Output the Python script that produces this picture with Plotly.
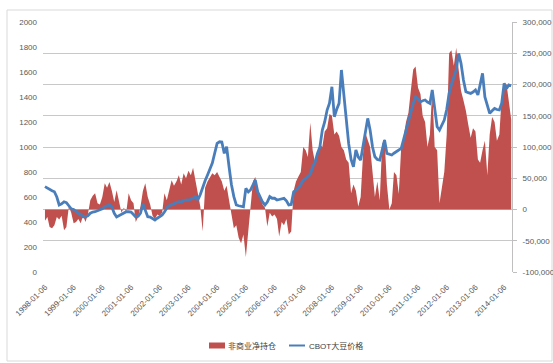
import pandas as pd
import plotly.graph_objects as go

# CBOT soybean price (left axis), monthly from 1998-01
price = [
    683, 670, 660, 650, 642, 600, 536, 545, 562, 555, 530, 505,   # 1998
    500, 482, 470, 460, 442, 442, 450, 470, 480, 482, 490, 500,   # 1999
    505, 522, 530, 537, 520, 470, 440, 450, 465, 475, 482, 482,   # 2000
    480, 460, 440, 445, 470, 544, 500, 442, 440, 430, 416, 430,   # 2001
    440, 456, 480, 512, 530, 540, 549, 555, 563, 560, 570, 576,   # 2002
    575, 580, 590, 603, 576, 620, 683, 730, 776, 820, 872, 950,   # 2003
    1029, 1042, 1040, 949, 1002, 842, 700, 603, 536, 530, 525, 522,  # 2004
    669, 640, 656, 700, 736, 642, 600, 560, 536, 560, 603, 590,   # 2005
    590, 576, 580, 585, 589, 570, 536, 540, 642, 655, 669, 700,   # 2006
    736, 745, 762, 780, 842, 880, 949, 1000, 1136, 1200, 1296, 1350,  # 2007
    1482, 1242, 1300, 1349, 1616, 1429, 1200, 1029, 900, 842, 976, 920,  # 2008
    896, 1000, 1109, 1229, 1136, 1000, 922, 900, 896, 980, 1056, 949,  # 2009
    940, 936, 950, 962, 975, 989, 1060, 1136, 1200, 1269, 1349, 1402,  # 2010
    1380, 1362, 1370, 1376, 1360, 1349, 1456, 1296, 1162, 1136, 1180, 1216,  # 2011
    1300, 1429, 1500, 1562, 1616, 1749, 1669, 1536, 1442, 1435, 1429, 1440,  # 2012
    1456, 1416, 1500, 1589, 1400, 1336, 1269, 1290, 1309, 1300, 1296, 1350,  # 2013
    1509, 1469, 1496, 1490,                                          # 2014
]

# Non-commercial net position (right axis), thousands of contracts
net_k = [
    -18, -12, -28, -30, -25, -12, -16, -10, -33, -28, 5, -5,      # 1998
    -22, -20, -15, -22, -10, -20, -8, 15, 22, 26, 10, 8,          # 1999
    20, 42, 35, 44, 30, 12, 31, 10, -5, 3, -4, 26,                # 2000
    15, 10, -20, -12, 5, 30, 42, 20, 8, -10, -15, -8,             # 2001
    -10, -5, 26, 15, 30, 47, 38, 45, 55, 40, 58, 50,              # 2002
    62, 55, 67, 45, 25, 5, -35, 35, 45, 52, 58, 55,               # 2003
    60, 52, 45, 30, 38, 15, -5, -30, -25, -45, -54, -40,          # 2004
    -76, -30, 10, 45, 52, 30, 20, 8, 3, -27, -5, -11,             # 2005
    -8, -15, -43, -20, -25, -15, -40, -35, 30, 45, 53, 60,        # 2006
    100, 95, 84, 139, 95, 75, 85, 105, 100, 125, 130, 153,        # 2007
    150, 120, 125, 118, 100, 95, 80, 75, 26, 40, 30, 5,           # 2008
    20, 90, 123, 110, 100, 60, 20, 45, 15, 105, 113, 40,          # 2009
    0, 10, 60, 55, 25, 100, 116, 140, 155, 190, 224, 229,         # 2010
    195, 185, 150, 140, 100, 120, 192, 100, 95, 10, 40, 60,       # 2011
    120, 250, 255, 230, 259, 220, 190, 175, 158, 136, 115, 130,   # 2012
    125, 80, 75, 95, 110, 55, 120, 148, 140, 110, 120, 181,       # 2013
    203, 200, 170, 144,                                            # 2014
]
net = [v * 1000 for v in net_k]

dates = [pd.Timestamp("1998-01-06") + pd.DateOffset(months=i) for i in range(len(price))]

x_tick_labels = [f"{y}-01-06" for y in range(1998, 2015)]
left_ticks = [0, 200, 400, 600, 800, 1000, 1200, 1400, 1600, 1800, 2000]
right_ticks = [-100000, -50000, 0, 50000, 100000, 150000, 200000, 250000, 300000]
right_labels = ["-100,000", "-50,000", "0", "50,000", "100,000", "150,000", "200,000", "250,000", "300,000"]

name_net = "非商业净持仓"
name_price = "CBOT大豆价格"

FONT = "Liberation Sans, Noto Sans CJK SC, sans-serif"
TICKC = "#595959"
RED = "#C0504D"
BLUE = "#4A7EBB"

fig = go.Figure()
fig.add_trace(go.Scatter(
    x=dates, y=net, name=name_net, yaxis="y",
    mode="lines", line=dict(width=0, color=RED),
    fill="tozeroy", fillcolor=RED, showlegend=False,
))
fig.add_trace(go.Scatter(
    x=dates, y=price, name=name_price, yaxis="y2",
    mode="lines", line=dict(width=2.8, color=BLUE), showlegend=False,
))

L, R, T, B = 43, 41, 22, 91
W, H = 553, 363
pw, ph = W - L - R, H - T - B

def px(x):
    return (x - L) / pw

def py(y):
    return (H - B - y) / ph

# hand-placed legend (shapes + real text)
legend_shapes = [
    dict(type="rect", xref="paper", yref="paper",
         x0=px(209), x1=px(225), y0=py(348.5), y1=py(342.5),
         line=dict(width=0), fillcolor=RED),
    dict(type="line", xref="paper", yref="paper",
         x0=px(289), x1=px(305), y0=py(345.5), y1=py(345.5),
         line=dict(width=2, color=BLUE)),
]
legend_texts = [
    dict(text=name_net, xref="paper", yref="paper", x=px(226), y=py(345.5),
         xanchor="left", yanchor="middle", showarrow=False,
         font=dict(size=8, color="#404040")),
    dict(text=name_price, xref="paper", yref="paper", x=px(307), y=py(345.5),
         xanchor="left", yanchor="middle", showarrow=False,
         font=dict(size=8, color="#404040")),
]

border = dict(type="rect", xref="paper", yref="paper",
              x0=px(7), y0=py(361), x1=px(552), y1=py(10),
              line=dict(color="#d9d9d9", width=1), fillcolor="rgba(0,0,0,0)",
              layer="below")

fig.update_layout(
    width=W, height=H,
    margin=dict(l=L, r=R, t=T, b=B, autoexpand=False),
    paper_bgcolor="white", plot_bgcolor="white",
    font=dict(family=FONT, size=8, color=TICKC),
    showlegend=False,
    xaxis=dict(
        type="date", range=["1997-12-12", "2014-04-16"],
        tickvals=[f"{y}-01-06" for y in range(1998, 2015)], ticktext=x_tick_labels,
        tickangle=-45, showgrid=False, showline=False, zeroline=False, ticks="",
        ticklabelstandoff=8, automargin=False,
        tickfont=dict(size=8, color=TICKC),
    ),
    yaxis=dict(
        side="right", range=[-100000, 300000],
        tickvals=right_ticks, ticktext=right_labels,
        showgrid=True, gridcolor="#c8c8c8", gridwidth=1,
        showline=True, linecolor="#bfbfbf", linewidth=1,
        ticks="outside", ticklen=4, tickcolor="#bfbfbf",
        ticklabelstandoff=4, automargin=False,
        zeroline=False, tickfont=dict(size=8, color=TICKC),
    ),
    yaxis2=dict(
        overlaying="y", side="left", range=[0, 2000],
        tickvals=left_ticks, showgrid=False, zeroline=False, showline=False,
        ticks="", ticklabelstandoff=5, automargin=False,
        tickfont=dict(size=8, color=TICKC),
    ),
    shapes=[border] + legend_shapes,
    annotations=legend_texts,
)

fig.write_html("out.html")
